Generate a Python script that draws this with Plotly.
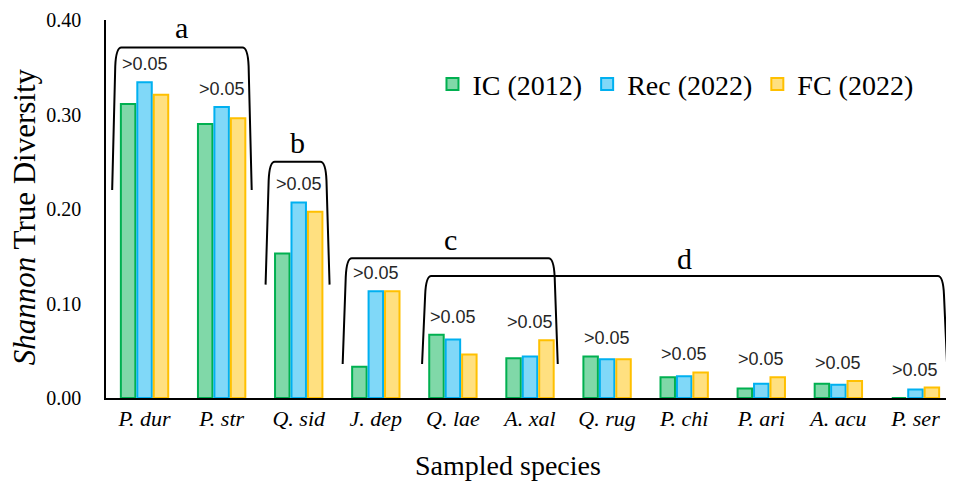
import plotly.graph_objects as go

species = ["P. dur", "P. str", "Q. sid", "J. dep", "Q. lae", "A. xal",
           "Q. rug", "P. chi", "P. ari", "A. acu", "P. ser"]
ic_2012 = [0.311, 0.290, 0.153, 0.033, 0.067, 0.042, 0.044, 0.022, 0.010, 0.015, 0.000]
rec_2022 = [0.334, 0.308, 0.207, 0.113, 0.062, 0.044, 0.041, 0.023, 0.015, 0.014, 0.009]
fc_2022 = [0.321, 0.296, 0.197, 0.113, 0.046, 0.061, 0.041, 0.027, 0.022, 0.018, 0.011]
y_ticks = [0.0, 0.1, 0.2, 0.3, 0.4]
sig_label = ">0.05"

# brackets: (first category, last category, top value, bottom value, letter, letter value)
brackets = [
    (0, 1, 0.371, 0.220, "a", 0.392),
    (2, 2, 0.250, 0.120, "b", 0.270),
    (3, 5, 0.148, 0.036, "c", 0.168),
    (4, 10, 0.129, 0.036, "d", 0.148),
]
bracket_pad = [(-0.42, 0.39), (-0.43, 0.40), (-0.43, 0.36), (-0.40, 0.41)]

idx = list(range(len(species)))
SERIF = "Liberation Serif, Times New Roman, serif"
SANS = "Liberation Sans, Arial, sans-serif"

series = [
    ("IC (2012)", ic_2012, "#80D8A8", "#00B050"),
    ("Rec (2022)", rec_2022, "#80D8F8", "#00B0F0"),
    ("FC (2022)", fc_2022, "#FFE080", "#FFC000"),
]

fig = go.Figure()
for name, vals, fill, line in series:
    fig.add_trace(go.Bar(
        x=idx, y=vals, name=name,
        marker=dict(color=fill, line=dict(color=line, width=2)),
    ))

# significance labels above each group
for i in idx:
    top = max(ic_2012[i], rec_2022[i], fc_2022[i])
    fig.add_annotation(x=i, y=top, text=sig_label, showarrow=False,
                       yanchor="bottom", yshift=6,
                       font=dict(family=SANS, size=18, color="#262626"))

# brackets
for (c0, c1, ytop, ybot, letter, ylet), (p0, p1) in zip(brackets, bracket_pad):
    x0 = c0 + p0
    x1 = c1 + p1
    rx, ry, tilt = 0.12, 0.02, 0.04
    path = (f"M {x0},{ybot} L {x0 + tilt},{ytop - ry} "
            f"Q {x0 + tilt + 0.01},{ytop} {x0 + rx},{ytop} "
            f"L {x1 - rx},{ytop} "
            f"Q {x1 - tilt - 0.01},{ytop} {x1 - tilt},{ytop - ry} "
            f"L {x1},{ybot}")
    fig.add_shape(type="path", path=path, xref="x", yref="y",
                  line=dict(color="black", width=2))
    fig.add_annotation(x=(x0 + x1) / 2, y=ylet, text=letter, showarrow=False,
                       font=dict(family=SERIF, size=30, color="black"))

# axis titles
fig.add_annotation(text="Sampled species", xref="paper", yref="paper",
                   x=0.474, y=-0.178, xanchor="center", yanchor="middle",
                   showarrow=False, font=dict(family=SERIF, size=28, color="black"))
fig.add_annotation(text="<i>Shannon</i> True Diversity", xref="paper", yref="paper",
                   x=-0.096, y=0.48, xanchor="center", yanchor="middle", textangle=-90,
                   showarrow=False, font=dict(family=SERIF, size=31, color="black"))

fig.update_layout(
    width=946, height=473,
    margin=dict(l=98, r=0, t=12, b=83, autoexpand=False),
    plot_bgcolor="white", paper_bgcolor="white",
    barmode="group", bargap=0.36, bargroupgap=0.12,
    showlegend=True,
    legend=dict(orientation="h", x=0.385, y=0.83, xanchor="left", yanchor="middle",
                font=dict(family=SERIF, size=28, color="black"),
                bgcolor="rgba(0,0,0,0)", itemwidth=30, tracegroupgap=0),
    font=dict(family=SERIF, color="black"),
)
fig.update_xaxes(
    range=[-0.5, 10.5], tickmode="array", tickvals=idx,
    ticktext=[f"<i>{s}</i>" for s in species],
    tickfont=dict(family=SERIF, size=22, color="black"),
    showline=True, linecolor="black", linewidth=2, showgrid=False, zeroline=False,
    ticks="", automargin=False,
)
fig.update_yaxes(
    range=[0, 0.4], tickvals=y_ticks, tickformat=".2f",
    tickfont=dict(family=SERIF, size=20, color="black"),
    showline=True, linecolor="black", linewidth=1.5, showgrid=False, zeroline=False,
    ticks="", ticklabelstandoff=19, automargin=False,
)

fig.write_html("out.html")
